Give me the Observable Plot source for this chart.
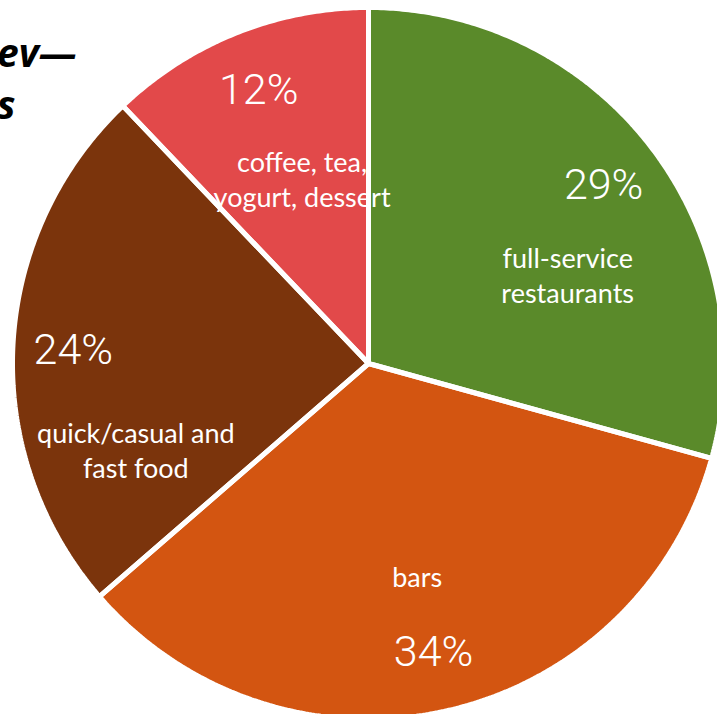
<!DOCTYPE html>
<html>
<head>
<meta charset="utf-8">
<script src="https://cdn.jsdelivr.net/npm/d3@7"></script>
<script src="https://cdn.jsdelivr.net/npm/@observablehq/plot@0.6"></script>
<style>
  html, body { margin: 0; padding: 0; background: #fff; overflow: hidden; }
  #wrap { position: relative; width: 717px; height: 714px; overflow: hidden; }
  #title { position: absolute; left: -3px; top: 26px; font-family: "Open Sans", "Liberation Sans", sans-serif;
           font-weight: 700; font-style: italic; font-size: 39px; line-height: 52px; color: #000; z-index: 0; }
  #chart { position: absolute; left: 0; top: 0; z-index: 1; }
  g[aria-label="pct"] text { filter: drop-shadow(0px 2px 3px rgba(0,0,0,0.55)); }
</style>
</head>
<body>
<div id="wrap">
  <div id="title">ev—<br>s</div>
  <div id="chart"></div>
</div>
<script>
// ---- data ----
const categories = ["full-service restaurants", "bars", "quick/casual and fast food", "coffee, tea, yogurt, dessert"];
const labelText = ["full-service\nrestaurants", "bars", "quick/casual and\nfast food", "coffee, tea,\nyogurt, dessert"];
const shares = [29, 34, 24, 12];
const percentText = ["29%", "34%", "24%", "12%"];
const colors = ["#5a8a2a", "#d35511", "#7b340c", "#e2494a"];

// ---- style / layout ----
const W = 717, H = 714;
const CX = 368, CY = 363, R = 356;          // pie centre and radius in pixels
const pctRadius = 0.83;
const labelPlace = [                          // radius factor, angle shift (deg) for category labels
  {r: 0.61, shift: 13.8},
  {r: 0.62, shift: 0},
  {r: 0.70, shift: -23.7},
  {r: 0.545, shift: 1.8}
];

const arcs = d3.pie().sort(null).value(d => d)(shares);
const pt = (a, r) => ({x: r * Math.sin(a), y: r * Math.cos(a)});

const slicePts = [];
arcs.forEach((a, i) => {
  slicePts.push({cat: categories[i], ...pt(0, 0)});
  const n = Math.max(8, Math.ceil((a.endAngle - a.startAngle) / (Math.PI / 360)));
  for (let k = 0; k <= n; k++) {
    const ang = a.startAngle + (a.endAngle - a.startAngle) * k / n;
    slicePts.push({cat: categories[i], ...pt(ang, 1)});
  }
});

const pctData = arcs.map((a, i) => ({text: percentText[i], ...pt((a.startAngle + a.endAngle) / 2, pctRadius)}));
const labData = arcs.map((a, i) => {
  const m = (a.startAngle + a.endAngle) / 2 + labelPlace[i].shift * Math.PI / 180;
  return {text: labelText[i], ...pt(m, labelPlace[i].r)};
});

const chart = Plot.plot({
  width: W, height: H,
  margin: 0,
  x: {domain: [-CX / R, (W - CX) / R], range: [0, W], axis: null},
  y: {domain: [-(H - CY) / R, CY / R], range: [H, 0], axis: null},
  color: {domain: categories, range: colors},
  marks: [
    Plot.line(slicePts, {x: "x", y: "y", z: "cat", fill: "cat", stroke: "none", curve: "linear-closed"}),
    Plot.text(labData, {x: "x", y: "y", text: "text", fill: "white", fontSize: 27, lineHeight: 1.3, dy: -3,
                        fontFamily: "Lato, 'Open Sans', sans-serif"}),
    Plot.line(slicePts, {x: "x", y: "y", z: "cat", fill: "none", stroke: "white", strokeWidth: 5,
                         strokeLinejoin: "miter", curve: "linear-closed"}),
    Plot.text(pctData, {x: "x", y: "y", text: "text", fill: "white", fontSize: 43, fontWeight: 300, dy: 1,
                        fontFamily: "Roboto, 'Liberation Sans', sans-serif", ariaLabel: "pct"})
  ]
});
document.getElementById("chart").appendChild(chart);
</script>
</body>
</html>
